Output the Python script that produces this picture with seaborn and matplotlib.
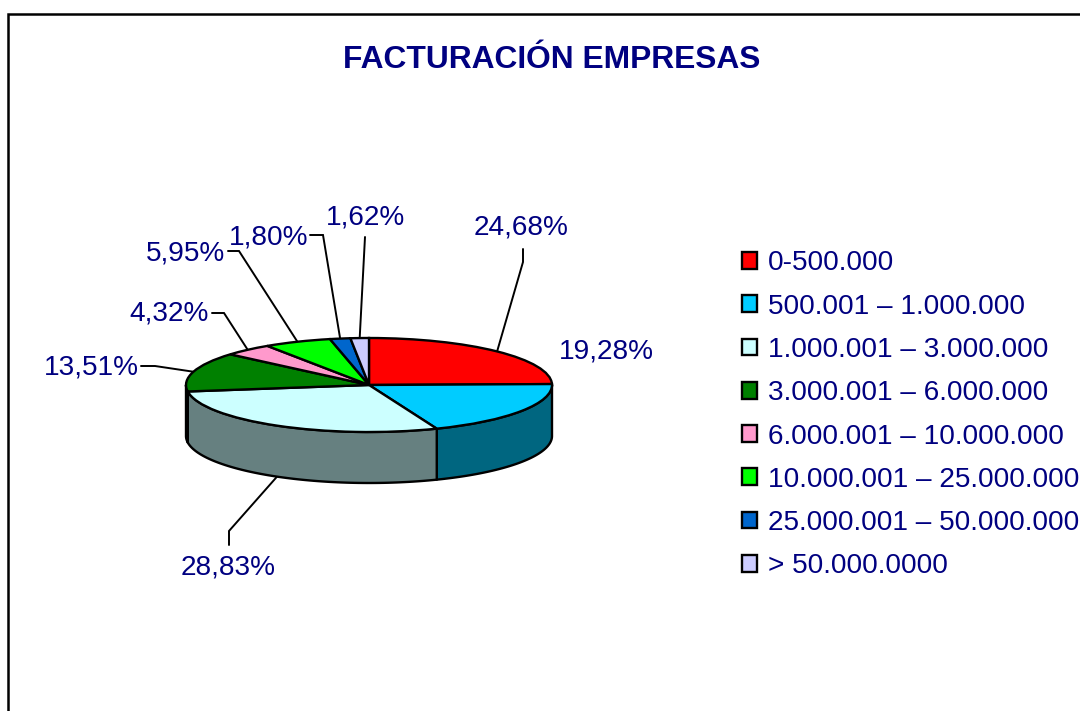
import numpy as np
import matplotlib
matplotlib.use("Agg")
import matplotlib.pyplot as plt
from matplotlib.patches import Patch
import seaborn as sns

title = "FACTURACIÓN EMPRESAS"
categories = ["0-500.000", "500.001 – 1.000.000", "1.000.001 – 3.000.000",
              "3.000.001 – 6.000.000", "6.000.001 – 10.000.000",
              "10.000.001 – 25.000.000", "25.000.001 – 50.000.000", "> 50.000.0000"]
values = [24.68, 19.28, 28.83, 13.51, 4.32, 5.95, 1.80, 1.62]
top_colors = ["#FF0000", "#00CCFF", "#CCFFFF", "#008000", "#FF99CC", "#00FF00", "#0066CC", "#CCCCFF"]
side_colors = ["#800000", "#006680", "#668080", "#004000", "#804D66", "#008000", "#003366", "#666680"]

# layout, pixels of the 1080x711 canvas
W, H = 1080, 711
CX, CY, RX, RY, DEPTH = 369, 385, 183, 47, 51
NAVY = "#000080"
label_pos = [(521.5, 228), (606.5, 352), (228.5, 567), (91.5, 368), (169.5, 314), (185.5, 254), (268.5, 237), (365, 218)]
leaders = [[(523, 262), (523, 249)], None, [(229, 531), (229, 545)], [(155, 366), (141, 366)],
           [(224, 313), (212, 313)], [(239, 251), (228, 251)], [(323, 235), (310, 235)], [(365, 237)]]

sns.set_theme(style="white")
plt.rcParams["font.family"] = ["Liberation Sans", "DejaVu Sans"]
palette = sns.color_palette(top_colors)
side_palette = sns.color_palette(side_colors)

fig = plt.figure(figsize=(W / 100, H / 100), dpi=100, facecolor="white")

# canvas axes in pixel units
bg = fig.add_axes([0, 0, 1, 1])
bg.set_xlim(0, W)
bg.set_ylim(H, 0)
bg.axis("off")
bg.plot([7.5, 7.5, W + 5], [H + 5, 13.5, 13.5], color="black", lw=1.8, solid_joinstyle="miter", clip_on=False)
bg.text(552, 60.5, title, color=NAVY, fontsize=22.9, fontweight="bold", ha="center", va="center")

# pie axes: the unit circle is squashed to the ellipse of the 3D disc
ax = fig.add_axes([(CX - RX) / W, 1 - (CY + RY) / H, 2 * RX / W, 2 * RY / H], zorder=2)
ax.patch.set_alpha(0)
total = sum(values)
edges = np.cumsum([0] + values) / total * 360
dz = 2 * DEPTH / (2 * RY)
for i in range(len(values)):
    a0, a1 = max(edges[i], 90), min(edges[i + 1], 270)
    if a1 <= a0:
        continue
    c = np.radians(np.linspace(a0, a1, 80))
    x, y = np.sin(c), np.cos(c)
    ax.fill(np.r_[x, x[::-1]], np.r_[y, y[::-1] - dz], facecolor=side_palette[i],
            edgecolor="black", lw=1.7, clip_on=False, joinstyle="round")

wedges, _ = ax.pie(values, colors=palette, startangle=90, counterclock=False, radius=1,
                   wedgeprops=dict(edgecolor="black", linewidth=1.7))
for w in wedges:
    w.set_clip_on(False)
ax.set_aspect("auto")
ax.set_xlim(-1, 1)
ax.set_ylim(-1, 1)
ax.axis("off")

# percentage labels with leader lines that start on the rim of the slice
for i, v in enumerate(values):
    bg.text(*label_pos[i], f"{v:.2f}".replace(".", ",") + "%", color=NAVY, fontsize=20.2,
            ha="center", va="center")
    if leaders[i] is None:
        continue
    mid = np.radians((edges[i] + edges[i + 1]) / 2)
    px = CX + RX * np.sin(mid)
    py = CY - RY * np.cos(mid) + (DEPTH if 90 < np.degrees(mid) < 270 else 0)
    pts = [(px, py)] + leaders[i]
    bg.plot(*zip(*pts), color="black", lw=1.4, solid_joinstyle="miter")

handles = [Patch(facecolor=c, edgecolor="black", linewidth=1.7) for c in palette]
leg = fig.legend(handles, categories, loc="upper left", bbox_to_anchor=(741.5 / W, 1 - 250.5 / H),
                 frameon=False, fontsize=20.2, labelcolor=NAVY, borderpad=0, borderaxespad=0,
                 handlelength=0.54, handleheight=0.54, handletextpad=0.4, labelspacing=0.615)

fig.savefig("out.png", dpi=100)
